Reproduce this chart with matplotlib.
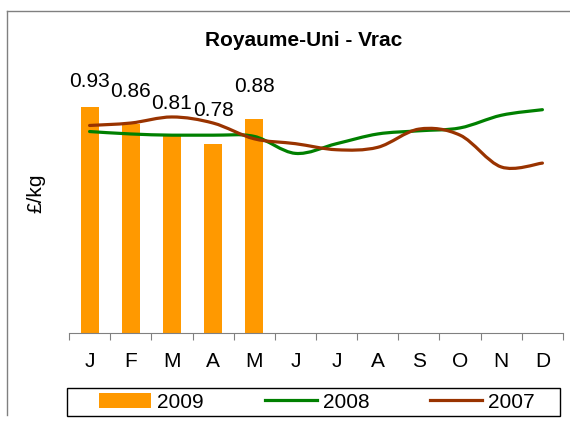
import matplotlib.pyplot as plt
plt.switch_backend('agg')
import numpy as np
from matplotlib.path import Path
from matplotlib.patches import PathPatch, Patch, Rectangle
from matplotlib.lines import Line2D

plt.rcParams['font.family'] = ['Liberation Sans', 'DejaVu Sans']

months = ['J', 'F', 'M', 'A', 'M', 'J', 'J', 'A', 'S', 'O', 'N', 'D']
bars_2009 = [0.93, 0.86, 0.81, 0.78, 0.88]
line_2008 = [0.83, 0.82, 0.815, 0.815, 0.81, 0.74, 0.78, 0.82, 0.833, 0.845, 0.897, 0.92]
line_2007 = [0.855, 0.865, 0.89, 0.865, 0.80, 0.78, 0.755, 0.765, 0.84, 0.815, 0.684, 0.70]

c09 = '#FF9900'
c08 = '#008000'
c07 = '#993300'
fs = 15


def smooth_path(ys):
    # excel-like smoothed line: catmull-rom turned into cubic bezier segments
    pts = np.column_stack([np.arange(len(ys)), ys]).astype(float)
    verts = [pts[0]]
    codes = [Path.MOVETO]
    n = len(pts)
    for i in range(n - 1):
        p0 = pts[max(i - 1, 0)]
        p1 = pts[i]
        p2 = pts[i + 1]
        p3 = pts[min(i + 2, n - 1)]
        verts += [p1 + (p2 - p0) / 6, p2 - (p3 - p1) / 6, p2]
        codes += [Path.CURVE4] * 3
    return Path(verts, codes)


fig = plt.figure(figsize=(5.7, 4.21), dpi=100)
ax = fig.add_axes([69 / 570, 1 - 333 / 421, 494 / 570, 267 / 421])

x = np.arange(len(months))
ax.bar(x[:len(bars_2009)], bars_2009, width=0.44, color=c09, zorder=1)
for ys, col in [(line_2008, c08), (line_2007, c07)]:
    ax.add_patch(PathPatch(smooth_path(ys), facecolor='none', edgecolor=col,
                           lw=2.3, capstyle='round', zorder=3))

for i, v in enumerate(bars_2009):
    ax.text(i, min(v + 0.135, 1.035), f'{v:.2f}', ha='center', va='center', fontsize=fs)

ax.set_xlim(-0.5, 11.5)
ax.set_ylim(0, 1.1)
for s in ['left', 'right', 'top']:
    ax.spines[s].set_visible(False)
ax.spines['bottom'].set_color('#808080')
ax.set_yticks([])
ax.set_xticks(np.arange(-0.5, 12, 1))
ax.set_xticklabels([])
ax.tick_params(axis='x', which='major', length=5, color='#808080', direction='out')
ax.set_xticks(x, minor=True)
ax.set_xticklabels(months, minor=True, fontsize=fs)
ax.tick_params(axis='x', which='minor', length=0, pad=14)

fig.text(304 / 570, 1 - 40 / 421, 'Royaume-Uni - Vrac', ha='center', va='center',
         fontsize=15, fontweight='bold')
fig.text(36 / 570, 1 - 193 / 421, '£/kg', rotation=90, ha='center', va='center', fontsize=fs)

# legend box drawn by hand, entries centred inside it
fig.add_artist(Rectangle((67 / 570, 1 - 416 / 421), 493 / 570, 28 / 421,
                         transform=fig.transFigure, facecolor='white',
                         edgecolor='black', lw=1, zorder=4))
handles = [Patch(facecolor=c09, edgecolor='none'),
           Line2D([], [], color=c08, lw=2.3),
           Line2D([], [], color=c07, lw=2.3)]
leg = fig.legend(handles, ['2009', '2008', '2007'], ncol=3, loc='center',
                 bbox_to_anchor=(317 / 570, 1 - 402 / 421), fontsize=fs,
                 frameon=False, handlelength=2.5, handleheight=0.7,
                 handletextpad=0.3, columnspacing=2.9, borderpad=0)
leg.set_zorder(5)

# outer chart border (only left and top show in the crop)
fig.add_artist(Line2D([7 / 570, 7 / 570], [1 - 415 / 421, 1 - 11 / 421],
                      transform=fig.transFigure, color='#808080', lw=1))
fig.add_artist(Line2D([7 / 570, 1], [1 - 11 / 421, 1 - 11 / 421],
                      transform=fig.transFigure, color='#808080', lw=1))

fig.savefig('out.png', dpi=100)
